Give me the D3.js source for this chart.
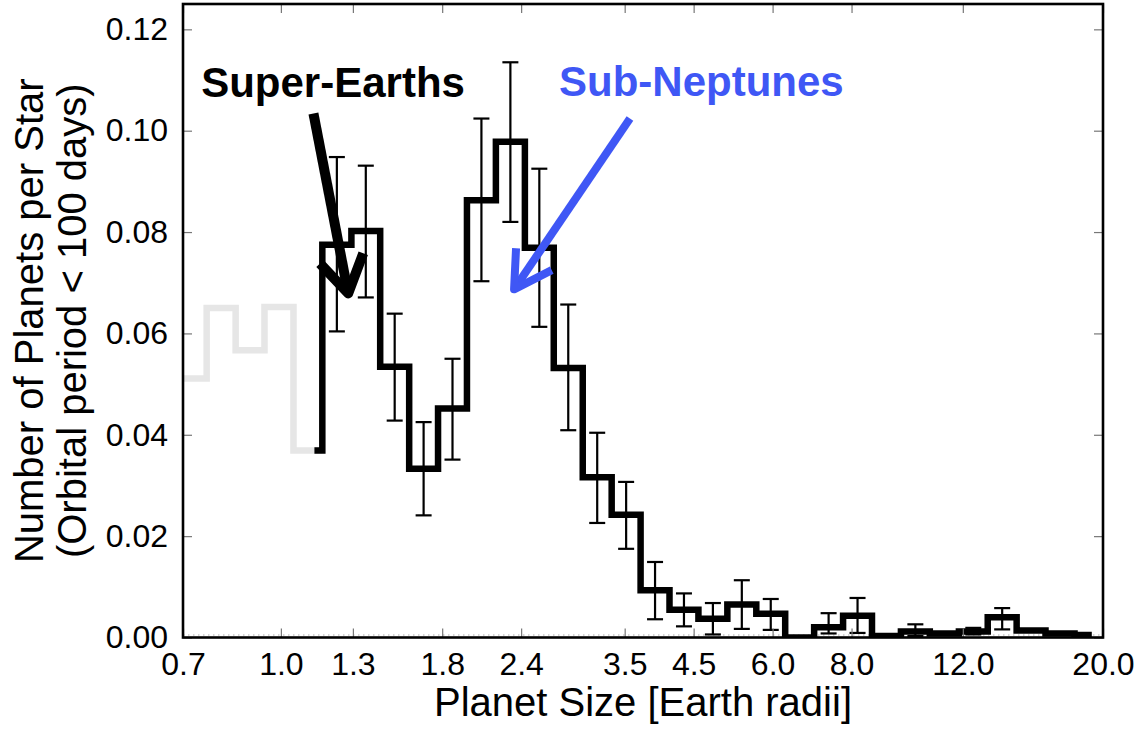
<!DOCTYPE html>
<html>
<head>
<meta charset="utf-8">
<script src="https://cdn.jsdelivr.net/npm/d3@7"></script>
<style>
  html, body { margin: 0; padding: 0; background: #fff; }
  svg { display: block; }
  text { font-family: "Liberation Sans", Arial, Helvetica, sans-serif; }
</style>
</head>
<body>
<svg id="chart" width="1144" height="731"></svg>
<script>
// Log-spaced radius bin edges [Earth radii]
const radiusEdges = [0.687, 0.763, 0.848, 0.942, 1.047, 1.163, 1.293, 1.436, 1.596, 1.773,
  1.970, 2.189, 2.433, 2.703, 3.004, 3.338, 3.709, 4.121, 4.579, 5.088, 5.654, 6.282,
  6.981, 7.757, 8.619, 9.577, 10.64, 11.83, 13.14, 14.60, 16.22, 18.03, 20.03];

// Small planets below the completeness limit (first five bins), shown in grey
const lowRate = [0.0511, 0.0650, 0.0567, 0.0652, 0.0369];

// Occurrence per bin, starting at the fifth bin
const blackStartRadius = 1.13;
const rate = [0.0369, 0.0775, 0.0802, 0.0534, 0.0333, 0.0452, 0.0863, 0.0978, 0.0769,
  0.0532, 0.0316, 0.0242, 0.0093, 0.0055, 0.0037, 0.0065, 0.0047, 0.0000, 0.0020,
  0.0043, 0.0003, 0.0012, 0.0008, 0.0012, 0.0040, 0.0014, 0.0008, 0.0005];
const errLow = [null, 0.0604, 0.0671, 0.0428, 0.0241, 0.0351, 0.0703, 0.0820, 0.0613,
  0.0409, 0.0226, 0.0175, 0.0036, 0.0022, 0.0006, 0.0017, 0.0015, null, 0.0008,
  0.0009, null, 0.0003, null, 0.0006, 0.0016, null, null, null];
const errHigh = [null, 0.0948, 0.0931, 0.0639, 0.0425, 0.0550, 0.1024, 0.1135, 0.0925,
  0.0657, 0.0404, 0.0307, 0.0149, 0.0087, 0.0068, 0.0113, 0.0076, null, 0.0048,
  0.0078, null, 0.0026, null, 0.0019, 0.0058, null, null, null];
const rateOffset = 4; // index of the first bin in `rate`
const lastRadius = 19.2; // outline stops a little short of the final edge

const xTicks = [0.7, 1.0, 1.3, 1.8, 2.4, 3.5, 4.5, 6.0, 8.0, 12.0, 20.0];
const yTicks = [0.00, 0.02, 0.04, 0.06, 0.08, 0.10, 0.12];

// Annotations in data units: [radius, rate]
const superEarthLabel = { text: "Super-Earths", at: [0.748, 0.1066] };
const subNeptuneLabel = { text: "Sub-Neptunes", at: [2.755, 0.1068] };
const superEarthArrow = { from: [1.126, 0.1034], tip: [1.278, 0.0679], armA: [1.153, 0.0738], armB: [1.350, 0.0758] };
const subNeptuneArrow = { from: [3.568, 0.1024], tip: [2.339, 0.0687], armA: [2.356, 0.0768], armB: [2.683, 0.0725] };

const margin = { top: 4, right: 41, bottom: 94, left: 183 };
const W = 1144, H = 731;
const iw = W - margin.left - margin.right;
const ih = H - margin.top - margin.bottom + 0.5;

const svg = d3.select("#chart");
const g = svg.append("g").attr("transform", `translate(${margin.left},${margin.top})`);

const x = d3.scaleLog().domain([0.7, 20.0]).range([0, iw]);
const y = d3.scaleLinear().domain([0, 0.125]).range([ih, 0]);

g.append("clipPath").attr("id", "plotClip")
  .append("rect").attr("x", 0).attr("y", -10).attr("width", iw).attr("height", ih + 10);

// minor tick row along the bottom axis
g.append("line")
  .attr("x1", 0).attr("x2", iw).attr("y1", ih - 2.5).attr("y2", ih - 2.5)
  .attr("stroke", "#aaa").attr("stroke-width", 1).attr("stroke-dasharray", "1.5,3.5");

// step outline for a run of bins
function stepPoints(values, firstBin, startRadius, endRadius) {
  const pts = [];
  values.forEach((v, j) => {
    const i = firstBin + j;
    const x0 = (j === 0 && startRadius) ? startRadius : radiusEdges[i];
    const x1 = (j === values.length - 1 && endRadius) ? endRadius : radiusEdges[i + 1];
    pts.push([x0, v], [x1, v]);
  });
  return pts;
}
const line = d3.line().x(d => x(d[0])).y(d => y(d[1]));

const hist = g.append("g").attr("clip-path", "url(#plotClip)");
hist.append("path")
  .attr("d", line(stepPoints(lowRate, 0)))
  .attr("fill", "none").attr("stroke", "#e6e6e6").attr("stroke-width", 6.5)
  .attr("stroke-linejoin", "miter");
hist.append("path")
  .attr("d", line(stepPoints(rate, rateOffset, blackStartRadius, lastRadius)))
  .attr("fill", "none").attr("stroke", "#000").attr("stroke-width", 6.5)
  .attr("stroke-linejoin", "miter");

// error bars at geometric bin centres
const errData = rate.map((v, j) => {
  const i = j + rateOffset;
  return { c: Math.sqrt(radiusEdges[i] * radiusEdges[i + 1]), lo: errLow[j], hi: errHigh[j] };
}).filter(d => d.lo !== null);
const capW = 8;
const eb = g.append("g").attr("stroke", "#000").attr("stroke-width", 2.2);
errData.forEach(d => {
  const cx = x(d.c);
  eb.append("line").attr("x1", cx).attr("x2", cx).attr("y1", y(d.lo)).attr("y2", y(d.hi));
  eb.append("line").attr("x1", cx - capW).attr("x2", cx + capW).attr("y1", y(d.lo)).attr("y2", y(d.lo));
  eb.append("line").attr("x1", cx - capW).attr("x2", cx + capW).attr("y1", y(d.hi)).attr("y2", y(d.hi));
});

// axes: labels outside, ticks inward on all four sides
const tickFmt = d3.format(".1f");
const xAxis = g.append("g").attr("transform", `translate(0,${ih})`)
  .call(d3.axisBottom(x).tickValues(xTicks).tickFormat(tickFmt).tickSize(-9).tickPadding(15));
const xTop = g.append("g")
  .call(d3.axisTop(x).tickValues(xTicks).tickFormat("").tickSize(-9));
const yAxis = g.append("g")
  .call(d3.axisLeft(y).tickValues(yTicks).tickFormat(d3.format(".2f")).tickSize(-9).tickPadding(15));
const yRight = g.append("g").attr("transform", `translate(${iw},0)`)
  .call(d3.axisRight(y).tickValues(yTicks).tickFormat("").tickSize(-9));

[xAxis, xTop, yAxis, yRight].forEach(a => {
  a.select(".domain").remove();
  a.selectAll(".tick line").attr("stroke", "#777").attr("stroke-width", 1.2);
  a.selectAll(".tick text").attr("font-size", 32).attr("fill", "#000")
    .style("font-family", '"Liberation Sans", Arial, sans-serif');
});
xAxis.selectAll(".tick text").attr("dy", "0.71em");

// frame
g.append("rect").attr("x", 0).attr("y", 0).attr("width", iw).attr("height", ih)
  .attr("fill", "none").attr("stroke", "#000").attr("stroke-width", 2.6);

// axis titles
svg.append("text")
  .attr("x", margin.left + iw / 2).attr("y", 716)
  .attr("text-anchor", "middle").attr("font-size", 40).attr("fill", "#000")
  .text("Planet Size [Earth radii]");
const yTitle = svg.append("g")
  .attr("transform", `translate(0,${margin.top + ih / 2}) rotate(-90)`);
yTitle.append("text").attr("x", 0).attr("y", 43)
  .attr("text-anchor", "middle").attr("font-size", 40).attr("fill", "#000")
  .text("Number of Planets per Star");
yTitle.append("text").attr("x", 0).attr("y", 86)
  .attr("text-anchor", "middle").attr("font-size", 40).attr("fill", "#000")
  .text("(Orbital period < 100 days)");

// annotations
function drawArrow(a, color, width) {
  const pt = p => [x(p[0]), y(p[1])];
  const grp = g.append("g").attr("fill", "none").attr("stroke", color).attr("stroke-width", width);
  grp.append("path").attr("d", d3.line()([pt(a.from), pt(a.tip)]));
  grp.append("path").attr("d", d3.line()([pt(a.armA), pt(a.tip), pt(a.armB)]))
    .attr("stroke-linejoin", "round");
}
drawArrow(superEarthArrow, "#000", 10);
drawArrow(subNeptuneArrow, "#3f57f5", 8);

[[superEarthLabel, "#000"], [subNeptuneLabel, "#3f57f5"]].forEach(([lab, col]) => {
  g.append("text")
    .attr("x", x(lab.at[0])).attr("y", y(lab.at[1]))
    .attr("font-size", 42).attr("font-weight", "bold").attr("fill", col)
    .text(lab.text);
});
</script>
</body>
</html>
